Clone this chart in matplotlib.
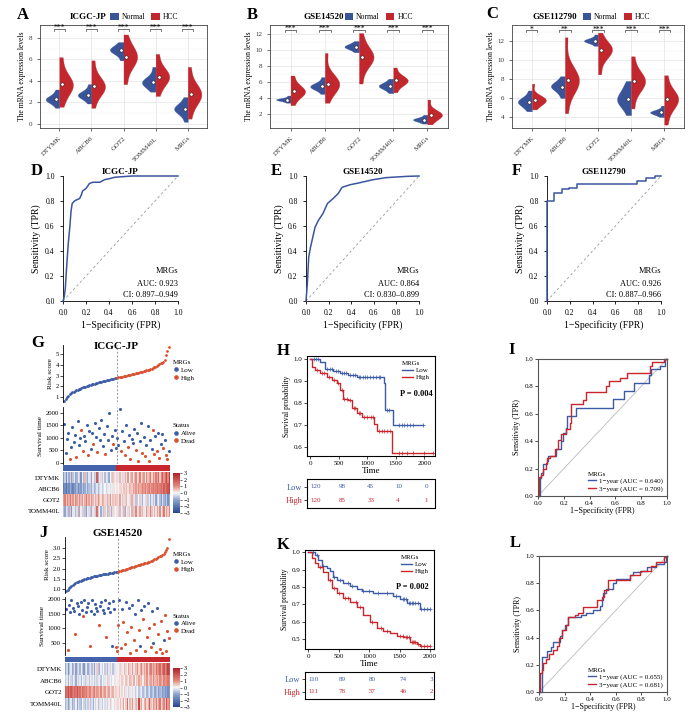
import numpy as np
import matplotlib
matplotlib.use("Agg")
import matplotlib.pyplot as plt
from matplotlib.colors import LinearSegmentedColormap, ListedColormap
from matplotlib.lines import Line2D
from matplotlib.patches import Patch
from matplotlib.ticker import MultipleLocator, FormatStrFormatter

plt.rcParams['font.family'] = ['Liberation Serif', 'DejaVu Serif']
plt.rcParams['axes.unicode_minus'] = True
plt.rcParams['axes.linewidth'] = 0.6

# ======================= DATA =======================
genes = ['DTYMK', 'ABCB6', 'GOT2', 'TOMM40L', 'MRGs']
heat_genes = ['DTYMK', 'ABCB6', 'GOT2', 'TOMM40L']

# --- A: ICGC-JP expression samples (Normal / HCC) per gene
icgc_normal = [
    [1.5, 1.9, 2.1, 2.2, 2.3, 2.4, 2.5, 2.8, 3.2],
    [1.9, 2.3, 2.5, 2.6, 2.7, 2.8, 2.9, 3.2, 3.7],
    [5.9, 6.4, 6.6, 6.8, 6.85, 6.95, 7.1, 7.3, 7.6],
    [3.0, 3.4, 3.6, 3.8, 3.9, 4.0, 4.2, 4.6, 5.3],
    [0.2, 0.8, 1.1, 1.3, 1.4, 1.5, 1.7, 2.0, 2.5]]
icgc_hcc = [
    [1.6, 2.6, 3.1, 3.4, 3.7, 3.9, 4.2, 4.9, 6.2],
    [1.5, 2.6, 3.0, 3.3, 3.5, 3.7, 4.0, 4.6, 5.9],
    [3.7, 5.0, 5.6, 5.9, 6.2, 6.5, 6.8, 7.3, 8.3],
    [2.6, 3.5, 3.9, 4.2, 4.4, 4.6, 4.9, 5.4, 6.5],
    [0.5, 1.7, 2.2, 2.5, 2.8, 3.0, 3.3, 3.9, 5.3]]
icgc_sig = ['***', '***', '***', '***', '***']

# --- B: GSE14520
g14_normal = [
    [3.4, 3.6, 3.7, 3.75, 3.8, 3.85, 3.9, 4.0, 4.3],
    [4.5, 5.0, 5.2, 5.35, 5.45, 5.55, 5.7, 6.0, 6.6],
    [9.7, 10.0, 10.2, 10.3, 10.4, 10.5, 10.6, 10.8, 11.1],
    [4.6, 5.0, 5.25, 5.4, 5.5, 5.6, 5.75, 6.0, 6.4],
    [0.8, 1.0, 1.15, 1.25, 1.3, 1.35, 1.45, 1.6, 1.9]]
g14_hcc = [
    [3.1, 4.0, 4.4, 4.6, 4.85, 5.0, 5.3, 5.8, 6.8],
    [3.4, 4.7, 5.2, 5.5, 5.8, 6.0, 6.4, 7.2, 9.6],
    [5.8, 7.6, 8.4, 8.8, 9.1, 9.4, 9.8, 10.6, 12.1],
    [4.7, 5.5, 5.8, 6.0, 6.2, 6.35, 6.5, 6.9, 7.8],
    [0.7, 1.3, 1.6, 1.8, 1.9, 2.0, 2.2, 2.6, 3.8]]
g14_sig = ['***', '***', '***', '***', '***']

# --- C: GSE112790
g11_normal = [
    [4.6, 5.0, 5.3, 5.5, 5.6, 5.7, 5.9, 6.2, 6.8],
    [6.0, 6.5, 6.9, 7.1, 7.2, 7.35, 7.5, 7.8, 8.3],
    [11.5, 11.8, 11.9, 12.0, 12.05, 12.1, 12.2, 12.35, 12.7],
    [4.2, 5.0, 5.4, 5.7, 5.9, 6.2, 6.6, 7.1, 7.8],
    [4.0, 4.25, 4.35, 4.45, 4.5, 4.55, 4.65, 4.8, 5.2]]
g11_hcc = [
    [4.8, 5.3, 5.5, 5.7, 5.8, 5.9, 6.0, 6.3, 7.5],
    [4.4, 6.6, 7.2, 7.6, 7.9, 8.1, 8.5, 9.3, 12.4],
    [8.5, 9.9, 10.5, 10.8, 11.1, 11.3, 11.5, 11.9, 12.9],
    [4.9, 6.5, 7.1, 7.5, 7.8, 8.0, 8.3, 8.9, 10.4],
    [3.2, 4.6, 5.2, 5.6, 5.9, 6.1, 6.4, 7.0, 8.4]]
g11_sig = ['*', '**', '***', '***', '***']

# --- D/E/F: diagnostic ROC curves
rocD_fpr = [0, 0.01, 0.02, 0.03, 0.045, 0.06, 0.07, 0.08, 0.1, 0.12, 0.145, 0.16, 0.17, 0.2,
            0.23, 0.26, 0.32, 0.36, 0.41, 0.45, 0.6, 1.0]
rocD_tpr = [0, 0.03, 0.1, 0.25, 0.45, 0.6, 0.72, 0.78, 0.8, 0.81, 0.82, 0.85, 0.88, 0.9,
            0.94, 0.95, 0.95, 0.97, 0.98, 0.99, 1.0, 1.0]
rocE_fpr = [0, 0.012, 0.024, 0.04, 0.06, 0.08, 0.11, 0.15, 0.19, 0.24, 0.285, 0.32, 0.39,
            0.48, 0.59, 0.71, 0.89, 1.0]
rocE_tpr = [0, 0.14, 0.35, 0.43, 0.51, 0.59, 0.645, 0.70, 0.78, 0.82, 0.86, 0.91, 0.93,
            0.947, 0.97, 0.987, 0.997, 1.0]
rocF_fpr = [0, 0, 0.065, 0.065, 0.13, 0.13, 0.19, 0.19, 0.26, 0.26, 0.79, 0.79, 0.87, 0.87,
            0.95, 0.95, 1.0]
rocF_tpr = [0, 0.8, 0.8, 0.867, 0.867, 0.9, 0.9, 0.907, 0.907, 0.933, 0.933, 0.96, 0.96,
            0.987, 0.987, 1.0, 1.0]

# --- G: ICGC-JP risk model (patients sorted by risk score)
G_risk = [0.62, 0.85, 1.0, 1.12, 1.25, 1.35, 1.45, 1.52, 1.58, 1.64,
          1.70, 1.75, 1.80, 1.85, 1.90, 1.95, 1.99, 2.03, 2.07, 2.11,
          2.15, 2.19, 2.23, 2.27, 2.31, 2.35, 2.38, 2.41, 2.44, 2.47,
          2.50, 2.53, 2.56, 2.59, 2.62, 2.65, 2.68, 2.71, 2.74, 2.77,
          2.80, 2.83, 2.86, 2.89, 2.92, 2.95, 2.98, 3.01, 3.04, 3.07,
          3.10, 3.13, 3.16, 3.19, 3.22, 3.25, 3.28, 3.31, 3.34, 3.37,
          3.40, 3.44, 3.48, 3.52, 3.56, 3.60, 3.65, 3.70, 3.76, 3.82,
          3.90, 3.98, 4.06, 4.15, 4.22, 4.30, 4.50, 4.90, 5.30, 5.70]
G_time = [1550, 380, 950, 1200, 160, 620, 1420, 820, 1100, 240,
          1650, 700, 980, 1300, 450, 1050, 870, 1500, 300, 1250,
          560, 1180, 760, 1600, 1010, 430, 1380, 890, 1700, 650,
          1150, 340, 1450, 920, 1990, 520, 1080, 730, 1320, 600,
          1000, 700, 2150, 450, 1250, 880, 300, 1500, 620, 1100,
          150, 950, 780, 1350, 520, 1200, 60, 850, 1580, 400,
          1020, 250, 690, 1450, 80, 900, 560, 1300, 350, 1050,
          480, 1200, 200, 760, 1150, 580, 920, 300, 130, 450]
G_status = [0, 0, 0, 0, 1, 0, 0, 0, 0, 1,
            0, 0, 0, 1, 1, 0, 0, 0, 1, 0,
            0, 0, 1, 0, 0, 1, 0, 0, 0, 0,
            0, 1, 0, 0, 0, 0, 0, 1, 0, 0,
            0, 0, 0, 1, 0, 0, 1, 0, 1, 0,
            1, 0, 0, 0, 1, 0, 1, 0, 0, 1,
            0, 1, 0, 0, 1, 0, 0, 1, 1, 0,
            1, 0, 1, 0, 0, 1, 0, 1, 1, 0]
G_heat = [
    [-1.2, -0.5, -1.5, -0.3, -0.9, 0.4, -1.1, -0.6, -0.2, -1.0, -0.8, 0.2, -0.4, -1.3, -0.1, -0.7, 0.6, -0.5, -0.9, -0.2,
     -0.3, -1.0, 0.1, -0.6, -0.4, 1.8, -0.8, -0.2, 0.3, -0.5, -0.1, -0.7, 0.2, -0.3, -0.9, 0.0, -0.4, 0.5, -0.2, 0.1,
     0.3, -0.2, 0.6, 0.1, 0.4, -0.3, 0.7, 0.2, 0.9, 0.0, 0.5, 0.8, -0.1, 0.6, 1.0, 0.3, 0.4, 1.2, 0.2, 0.7,
     0.9, 0.1, 1.1, 0.5, 0.8, 1.4, 0.3, 1.0, 0.6, 1.3, 0.8, 1.6, 0.4, 1.2, 1.8, 0.9, 1.5, 2.2, 1.1, 2.5],
    [-1.8, -1.5, -2.0, -1.2, -1.6, -0.9, -1.4, -1.7, -1.1, -1.3, -0.8, -1.5, -1.0, -1.2, -0.6, -1.1, -0.9, -0.4, -1.0, -0.7,
     -0.5, -0.9, -0.3, -0.8, -0.6, -0.2, -0.7, -0.4, -0.1, -0.5, -0.3, 0.0, -0.4, -0.2, 0.1, -0.3, -0.1, 0.2, -0.2, 0.0,
     0.2, 0.0, 0.3, 0.4, 0.1, 0.5, 0.3, 0.6, 0.2, 0.7, 0.5, 0.4, 0.8, 0.6, 0.9, 0.5, 1.0, 0.7, 0.8, 1.1,
     0.9, 1.2, 0.7, 1.0, 1.3, 0.8, 1.1, 1.4, 1.0, 1.2, 1.5, 1.1, 1.3, 1.6, 1.2, 1.8, 1.4, 1.7, 2.0, 2.3],
    [0.8, 1.2, 0.5, 1.0, 0.7, 1.4, 0.6, 0.9, 0.3, 1.1, 0.8, 0.4, 1.0, 0.6, 0.9, 0.2, 0.7, 1.3, 0.5, 0.8,
     0.3, 0.9, 0.6, -0.2, 0.7, 0.4, 1.0, 0.5, 0.2, 0.8, 0.6, 0.3, -0.3, 0.7, 0.4, 0.9, 0.1, 0.5, 0.3, 0.6,
     0.4, 0.2, 0.8, -0.1, 0.5, 0.3, -0.4, 0.6, 0.1, -0.2, 0.4, 0.7, -0.3, 0.2, -0.6, 0.5, 0.0, -0.4, 0.3, -0.8,
     0.1, -0.3, 0.4, -0.5, -0.1, -0.9, 0.2, -0.6, -0.2, -1.0, -0.4, 0.1, -0.7, -1.2, -0.3, -0.8, -1.1, -0.5, -1.4, -0.9],
    [-0.6, -1.0, 0.3, -0.4, -0.8, 0.5, -1.2, -0.2, 0.2, -0.7, -0.3, 0.8, -0.9, -0.1, -0.5, 0.4, -0.6, -1.1, 0.1, -0.3,
     0.6, -0.8, -0.2, 0.3, -0.5, 1.5, -0.4, 0.0, -0.9, 0.2, -0.6, 0.4, -0.1, -0.7, 0.5, -0.3, -0.8, 0.3, -0.2, 0.0,
     0.2, -0.4, 0.6, -0.1, 0.3, -0.6, 0.9, 0.1, -0.3, 0.5, 0.0, 0.7, -0.5, 0.4, 1.1, -0.2, 0.3, 0.8, -0.4, 0.6,
     0.2, -0.1, 0.9, 0.4, -0.3, 1.2, 0.5, 0.1, 0.7, -0.2, 0.8, 0.3, 1.0, -0.1, 0.6, 1.3, 0.2, 0.9, 0.4, 1.1]]

# --- J: GSE14520 risk model
J_risk = [0.90, 0.97, 1.05, 1.12, 1.18, 1.22, 1.26, 1.30, 1.33, 1.36,
          1.39, 1.42, 1.44, 1.46, 1.48, 1.50, 1.52, 1.54, 1.56, 1.58,
          1.60, 1.62, 1.63, 1.65, 1.66, 1.68, 1.69, 1.70, 1.72, 1.73,
          1.74, 1.75, 1.76, 1.77, 1.78, 1.79, 1.80, 1.81, 1.82, 1.83,
          1.85, 1.87, 1.89, 1.91, 1.93, 1.95, 1.97, 1.99, 2.01, 2.03,
          2.05, 2.07, 2.09, 2.11, 2.13, 2.15, 2.17, 2.19, 2.21, 2.23,
          2.25, 2.27, 2.29, 2.31, 2.33, 2.35, 2.38, 2.41, 2.44, 2.47,
          2.50, 2.54, 2.58, 2.62, 2.67, 2.72, 2.80, 2.90, 3.00, 3.40]
J_time = [1650, 250, 1800, 1550, 1950, 1700, 1600, 800, 1850, 1750,
          1500, 1900, 1640, 1420, 1980, 1560, 1720, 1880, 400, 1600,
          1950, 1500, 1820, 1680, 1580, 1100, 1760, 1900, 1620, 1520,
          1980, 700, 1700, 1850, 1540, 400, 1930, 1660, 350, 200,
          1100, 1950, 300, 1650, 1200, 450, 1900, 850, 1700, 150,
          1050, 1800, 600, 1500, 250, 1950, 950, 400, 1620, 1300,
          1750, 200, 700, 1850, 1000, 350, 1580, 500, 1150, 180,
          1680, 800, 280, 1250, 130, 600, 1450, 220, 900, 650]
J_status = [0, 1, 0, 0, 0, 0, 0, 1, 0, 0,
            0, 0, 0, 1, 0, 0, 0, 0, 1, 0,
            0, 0, 0, 0, 0, 1, 0, 0, 0, 0,
            0, 1, 0, 0, 0, 0, 0, 0, 1, 1,
            1, 0, 1, 0, 1, 1, 0, 1, 0, 1,
            1, 0, 1, 0, 1, 0, 1, 0, 0, 1,
            0, 1, 1, 0, 1, 1, 0, 0, 1, 1,
            0, 1, 1, 1, 1, 0, 1, 1, 1, 1]
J_heat = [
    [-0.9, -0.4, -1.3, -0.6, -0.2, -1.0, -0.7, 0.3, -1.1, -0.5, -0.3, -0.8, 0.1, -0.6, -1.2, -0.4, -0.1, -0.9, -0.5, 0.2,
     -0.7, -0.3, -1.0, -0.2, 0.4, -0.6, -0.8, -0.1, -0.4, 0.0, -0.5, 0.3, -0.7, -0.2, -0.4, 0.1, -0.6, -0.3, 0.2, -0.1,
     0.1, -0.3, 0.4, 0.2, -0.1, 0.6, 0.3, 0.0, 0.8, 0.4, 0.2, 0.9, -0.2, 0.6, 0.5, 1.0, 0.3, 0.7, 1.2, 0.4,
     0.8, 0.5, 1.1, 0.2, 0.9, 1.3, 0.6, 1.0, 0.7, 1.5, 0.9, 1.2, 1.6, 0.8, 1.4, 1.9, 1.1, 1.7, 2.3, 2.0],
    [-0.5, -0.2, -0.8, 0.1, -0.4, -0.6, -0.1, -0.3, -0.9, 0.2, -0.4, -0.2, -0.7, 0.0, -0.3, -0.5, 0.3, -0.2, -0.6, -0.1,
     -0.3, 0.1, -0.5, -0.2, -0.4, 0.2, -0.1, -0.6, 0.0, -0.3, -0.2, 0.1, -0.4, 0.3, -0.1, -0.3, 0.0, 0.2, -0.2, 0.1,
     0.1, 0.3, -0.1, 0.4, 0.2, 0.0, 0.5, 0.3, 0.1, 0.6, 0.4, 0.2, 0.7, 0.0, 0.5, 0.3, 0.8, 0.4, 0.6, 0.1,
     0.7, 0.5, 0.9, 0.3, 0.6, 0.8, 0.4, 1.0, 0.6, 0.7, 0.9, 0.5, 1.1, 0.8, 0.6, 1.2, 0.9, 1.0, 1.4, 1.1],
    [1.8, 1.5, 2.2, 1.3, 1.9, 1.6, 1.1, 1.7, 1.4, 2.0, 1.2, 1.5, 0.9, 1.6, 1.3, 1.0, 1.4, 0.8, 1.2, 1.1,
     0.7, 1.0, 1.3, 0.6, 0.9, 0.8, 0.5, 1.1, 0.4, 0.7, 0.9, 0.3, 0.6, 0.8, 0.2, 0.5, 0.7, 0.1, 0.4, 0.3,
     0.2, 0.5, -0.1, 0.3, 0.0, 0.4, -0.2, 0.1, -0.4, 0.2, -0.1, -0.3, 0.1, -0.5, -0.2, 0.0, -0.6, -0.3, -0.1, -0.7,
     -0.4, -0.2, -0.8, -0.5, -0.3, -0.9, -0.6, -0.4, -1.0, -0.7, -0.5, -1.1, -0.8, -0.6, -1.2, -0.9, -1.3, -1.0, -1.5, -1.2],
    [-0.8, -0.4, -1.1, -0.6, -0.2, -0.9, -0.5, -0.7, 0.1, -1.0, -0.3, -0.6, -0.8, 0.0, -0.4, -0.7, -0.2, -0.5, 0.2, -0.6,
     -0.3, -0.8, 0.1, -0.4, -0.1, -0.6, 0.3, -0.2, -0.5, 0.0, -0.3, 0.2, -0.4, -0.1, 0.4, -0.2, 0.0, 0.3, -0.1, 0.2,
     0.3, -0.1, 0.5, 0.2, 0.8, 0.0, 0.4, 1.5, 0.1, 0.6, 0.3, 0.9, -0.2, 0.5, 0.7, 0.2, 2.2, 0.4, 0.8, 0.1,
     0.6, 1.0, 0.3, 0.7, 1.8, 0.5, 0.2, 0.9, 0.6, 1.2, 0.4, 0.8, 1.4, 0.3, 0.7, 1.1, 0.5, 1.9, 0.9, 1.3]]

# --- H: ICGC-JP Kaplan-Meier
H_low_t = [0, 175, 262, 408, 525, 670, 816, 1294, 1312, 1458]
H_low_s = [1.0, 0.989, 0.954, 0.948, 0.939, 0.927, 0.92, 0.89, 0.768, 0.70]
H_low_end = 1980
H_low_cens = [60, 100, 130, 300, 350, 380, 450, 480, 560, 600, 620, 700, 750, 780, 850, 880, 920,
              960, 1000, 1050, 1100, 1150, 1200, 1230, 1350, 1380, 1550, 1600, 1650, 1700, 1750, 1800, 1980]
H_high_t = [0, 29, 87, 175, 292, 379, 466, 525, 583, 670, 729, 816, 904, 1120, 1166, 1440]
H_high_s = [1.0, 0.966, 0.95, 0.936, 0.92, 0.905, 0.89, 0.86, 0.82, 0.814, 0.776, 0.753, 0.734,
            0.704, 0.672, 0.572]
H_high_end = 2150
H_high_cens = [120, 200, 250, 330, 420, 480, 560, 600, 640, 700, 760, 790, 850, 880, 950, 1000, 1060,
               1100, 1200, 1250, 1300, 1350, 1400, 1550, 1600, 1700, 1800, 2000, 2150]
H_risk_low = [120, 98, 45, 10, 0]
H_risk_high = [120, 85, 33, 4, 1]
H_p = 'P = 0.004'

# --- K: GSE14520 Kaplan-Meier
K_low_t = [0, 110, 164, 219, 301, 356, 411, 466, 575, 685, 795, 877, 1068, 1233, 1397, 1507, 1616,
           1781, 1836]
K_low_s = [1.0, 0.985, 0.956, 0.923, 0.912, 0.895, 0.856, 0.84, 0.826, 0.807, 0.79, 0.78, 0.768,
           0.764, 0.749, 0.73, 0.71, 0.707, 0.672]
K_low_end = 2000
K_low_cens = [80, 150, 250, 420, 520, 650, 720, 900, 1000, 1150, 1300, 1450, 1550, 1580, 1600, 1650,
              1680, 1700, 1720, 1750, 1800, 1850, 1900, 1950, 2000]
K_high_t = [0, 55, 110, 164, 247, 329, 384, 466, 575, 685, 795, 904, 1014, 1123, 1233, 1342, 1452,
            1562, 1671, 1781, 1836]
K_high_s = [1.0, 0.966, 0.937, 0.918, 0.889, 0.84, 0.793, 0.764, 0.736, 0.716, 0.688, 0.64, 0.60,
            0.563, 0.55, 0.534, 0.519, 0.511, 0.487, 0.473, 0.462]
K_high_end = 2000
K_high_cens = [200, 350, 420, 500, 600, 650, 780, 850, 1050, 1200, 1300, 1500, 1550, 1600, 1620, 1650,
               1700, 1720, 1740, 1760, 1800, 1850, 1900, 1950, 2000]
K_risk_low = [110, 89, 80, 74, 3]
K_risk_high = [111, 78, 57, 46, 2]
K_p = 'P = 0.002'
risk_times = [0, 500, 1000, 1500, 2000]

# --- I / L: time-dependent ROC
I1_fpr = [0, 0.013, 0.026, 0.039, 0.07, 0.078, 0.143, 0.182, 0.195, 0.22, 0.226, 0.294, 0.579, 0.668,
          0.745, 0.857, 0.875, 0.948, 0.987, 1.0]
I1_tpr = [0, 0.13, 0.166, 0.23, 0.257, 0.29, 0.344, 0.4, 0.46, 0.5, 0.587, 0.644, 0.705, 0.765,
          0.827, 0.884, 0.926, 0.946, 1.0, 1.0]
I3_fpr = [0, 0.005, 0.026, 0.04, 0.06, 0.07, 0.09, 0.13, 0.156, 0.18, 0.22, 0.247, 0.255, 0.35, 0.37,
          0.53, 0.553, 0.636, 0.688, 0.865, 0.883, 0.98, 1.0]
I3_tpr = [0, 0.14, 0.153, 0.2, 0.24, 0.277, 0.29, 0.34, 0.41, 0.455, 0.49, 0.53, 0.67, 0.7, 0.76,
          0.8, 0.84, 0.86, 0.896, 0.946, 0.975, 1.0, 1.0]
I_auc = ['1\u2212year (AUC = 0.640)', '3\u2212year (AUC = 0.709)']
L1_fpr = [0, 0.02, 0.065, 0.09, 0.107, 0.164, 0.177, 0.2, 0.23, 0.33, 0.37, 0.42, 0.475, 0.493, 0.5,
          0.527, 0.58, 0.605, 0.714, 0.735, 0.8, 0.84, 0.917, 0.974, 0.995, 1.0]
L1_tpr = [0, 0.26, 0.3, 0.334, 0.37, 0.41, 0.456, 0.49, 0.55, 0.565, 0.58, 0.6, 0.63, 0.68, 0.73,
          0.76, 0.8, 0.83, 0.86, 0.88, 0.89, 0.92, 0.94, 0.956, 0.99, 1.0]
L3_fpr = [0, 0.008, 0.02, 0.034, 0.055, 0.08, 0.11, 0.137, 0.158, 0.177, 0.21, 0.23, 0.28, 0.306,
          0.345, 0.45, 0.49, 0.51, 0.54, 0.71, 0.787, 0.878, 0.917, 0.974, 1.0]
L3_tpr = [0, 0.14, 0.16, 0.21, 0.24, 0.28, 0.31, 0.34, 0.395, 0.456, 0.49, 0.55, 0.566, 0.578,
          0.627, 0.68, 0.7, 0.75, 0.82, 0.86, 0.89, 0.93, 0.956, 0.993, 1.0]
L_auc = ['1\u2212year (AUC = 0.655)', '3\u2212year (AUC = 0.681)']

# ======================= STYLE =======================
NORM = '#3A5499'
HCC = '#C1272D'
ROC_BLUE = '#3A55A0'
LOW_C = '#3B5BA5'
HIGH_C = '#C8252C'
DOT_BLUE = '#3E5DA8'
DOT_RED = '#D9512F'
TXT = '#333333'

W, H = 692, 719
fig = plt.figure(figsize=(W / 100, H / 100), dpi=100)


def add_ax(x0, y0, x1, y1):
    return fig.add_axes([x0 / W, 1 - y1 / H, (x1 - x0) / W, (y1 - y0) / H])


def letter(x, y, s):
    fig.text(x / W, 1 - y / H, s, fontsize=12, fontweight='bold', ha='center', va='center')


# ---------------- violin panels ----------------
def violin_panel(box, normal, hcc, ylim, yticks, sigs, sig_y, title, title_x, leg_x):
    ax = add_ax(*box)
    pos = np.arange(len(genes))
    ax.set_axisbelow(True)
    ax.set_xlim(-0.6, 4.6)
    ax.set_ylim(*ylim)
    ax.set_yticks(yticks)
    ax.yaxis.set_minor_locator(MultipleLocator(1))
    ax.grid(True, which='major', color='#E3E3E3', lw=0.5)
    ax.grid(True, which='minor', axis='y', color='#F0F0F0', lw=0.35)
    for data, side, col in ((normal, -1, NORM), (hcc, 1, HCC)):
        parts = ax.violinplot(data, positions=pos, widths=0.85, showextrema=False, bw_method=0.55)
        for c, body in zip(pos, parts['bodies']):
            v = body.get_paths()[0].vertices.copy()
            if side < 0:
                v[:, 0] = np.minimum(v[:, 0], c)
            else:
                v[:, 0] = np.maximum(v[:, 0], c)
            body.set_verts([v])
            body.set_facecolor(col)
            body.set_edgecolor(col)
            body.set_alpha(1)
            body.set_linewidth(0.2)
            body.set_zorder(2)
        ax.scatter(pos + side * 0.09, [np.median(d) for d in data], s=6, facecolor='white',
                   edgecolor='#222222', linewidths=0.4, zorder=5)
    d = (ylim[1] - ylim[0]) * 0.02
    for p, s in zip(pos, sigs):
        ax.plot([p - 0.17, p - 0.17, p + 0.17, p + 0.17], [sig_y - d, sig_y, sig_y, sig_y - d],
                color='#222222', lw=0.45, zorder=6)
        ax.text(p, sig_y - d * 1.6, s, ha='center', va='bottom', fontsize=5.5, zorder=7)
    ax.set_xticks(pos)
    ax.set_xticklabels(genes, rotation=45, ha='right', rotation_mode='anchor', fontsize=5, color=TXT)
    ax.tick_params(axis='y', labelsize=5, colors=TXT, length=2, width=0.5)
    ax.tick_params(axis='x', length=2, width=0.5, colors=TXT)
    ax.tick_params(which='minor', length=0)
    for sp in ax.spines.values():
        sp.set_color('#444444')
        sp.set_linewidth(0.6)
    ax.set_ylabel('The mRNA expression levels', fontsize=5.5, labelpad=2)
    ax.text(title_x, 1.075, title, transform=ax.transAxes, fontsize=6.5, fontweight='bold',
            ha='center', va='center')
    handles = [Patch(facecolor=NORM, edgecolor='none'), Patch(facecolor=HCC, edgecolor='none')]
    ax.legend(handles, ['Normal', 'HCC'], ncol=2, loc='center left', bbox_to_anchor=(leg_x, 1.075),
              frameon=False, fontsize=5.5, handlelength=1.1, handleheight=1.1, columnspacing=0.8,
              handletextpad=0.4, borderaxespad=0, borderpad=0)
    return ax


violin_panel((40, 25, 207, 128), icgc_normal, icgc_hcc, (-0.37, 9.18), [0, 2, 4, 6, 8],
             icgc_sig, 8.85, 'ICGC-JP', 0.29, 0.42)
violin_panel((270, 25, 448, 128), g14_normal, g14_hcc, (0.25, 13.1), [2, 4, 6, 8, 10, 12],
             g14_sig, 12.5, 'GSE14520', 0.30, 0.42)
violin_panel((512, 25, 684, 128), g11_normal, g11_hcc, (2.84, 13.7), [4, 6, 8, 10, 12],
             g11_sig, 13.15, 'GSE112790', 0.25, 0.41)
letter(23, 15, 'A')
letter(252, 15, 'B')
letter(492, 14, 'C')


# ---------------- diagnostic ROC ----------------
def roc_panel(box, fpr, tpr, title, lines):
    ax = add_ax(*box)
    ax.plot([0, 1], [0, 1], ls=(0, (3, 3)), color='#999999', lw=0.6)
    ax.plot(fpr, tpr, color=ROC_BLUE, lw=1.1, clip_on=False, zorder=4)
    ax.set_xlim(0, 1)
    ax.set_ylim(0, 1)
    for sp in ('top', 'right'):
        ax.spines[sp].set_visible(False)
    ax.set_xticks(np.arange(0, 1.01, 0.2))
    ax.set_yticks(np.arange(0, 1.01, 0.2))
    ax.xaxis.set_major_formatter(FormatStrFormatter('%.1f'))
    ax.yaxis.set_major_formatter(FormatStrFormatter('%.1f'))
    ax.tick_params(labelsize=5.5, length=2.5, width=0.6)
    ax.set_xlabel('1\u2212Specificity (FPR)', fontsize=7, labelpad=2)
    ax.set_ylabel('Sensitivity (TPR)', fontsize=7, labelpad=3)
    ax.set_title(title, fontsize=6.5, fontweight='bold', pad=1)
    for y, s in zip((0.24, 0.14, 0.045), lines):
        ax.text(1.0, y, s, ha='right', va='center', fontsize=6)


roc_panel((63, 176, 178, 301), rocD_fpr, rocD_tpr, 'ICGC-JP', ['MRGs', 'AUC: 0.923', 'CI: 0.897\u20130.949'])
roc_panel((306, 176, 419, 301), rocE_fpr, rocE_tpr, 'GSE14520', ['MRGs', 'AUC: 0.864', 'CI: 0.830\u20130.899'])
roc_panel((547, 176, 661, 301), rocF_fpr, rocF_tpr, 'GSE112790', ['MRGs', 'AUC: 0.926', 'CI: 0.887\u20130.966'])
letter(37, 171, 'D')
letter(276, 171, 'E')
letter(517, 171, 'F')

# ---------------- risk plots ----------------
heat_cmap = LinearSegmentedColormap.from_list(
    'bwr2', [(0.0, '#24468F'), (0.33, '#8EA3CF'), (0.5, '#F8F8F8'), (0.67, '#E58A7F'), (1.0, '#B21E26')])


def risk_panel(x0, x1, yr, ys, yb, yh, cb, risk, time, status, heat, title, rlim, rticks, rfmt,
               slim, sticks, title_y):
    n = len(risk)
    idx = np.arange(1, n + 1)
    half = n // 2
    grp = np.array([0] * half + [1] * (n - half))
    risk = np.array(risk)
    time = np.array(time)
    status = np.array(status)
    split = half + 0.5

    axr = add_ax(x0, yr[0], x1, yr[1])
    axr.scatter(idx[grp == 0], risk[grp == 0], s=4, color=DOT_BLUE, lw=0)
    axr.scatter(idx[grp == 1], risk[grp == 1], s=4, color=DOT_RED, lw=0)
    axr.axvline(split, ls=(0, (2.5, 2)), color='#888888', lw=0.6)
    axr.set_xlim(0, n + 1)
    axr.set_ylim(*rlim)
    axr.set_yticks(rticks)
    axr.yaxis.set_major_formatter(FormatStrFormatter(rfmt))
    for sp in ('top', 'right', 'bottom'):
        axr.spines[sp].set_visible(False)
    axr.set_xticks([])
    axr.tick_params(axis='y', labelsize=4.8, length=2, width=0.5, pad=1)
    axr.set_ylabel('Risk score', fontsize=5.2, labelpad=2)
    axr.text(0.5, title_y, title, transform=axr.transAxes, ha='center', va='center',
             fontsize=8, fontweight='bold')
    h1 = [Line2D([], [], marker='o', ls='', color=DOT_BLUE, ms=2.3),
          Line2D([], [], marker='o', ls='', color=DOT_RED, ms=2.3)]
    lg = axr.legend(h1, ['Low', 'High'], title='MRGs', loc='upper left', bbox_to_anchor=(1.0, 0.78),
                    frameon=False, fontsize=5, title_fontsize=5, handlelength=0.8, handletextpad=0.4,
                    borderaxespad=0, labelspacing=0.25)
    lg._legend_box.align = 'left'

    axs = add_ax(x0, ys[0], x1, ys[1])
    alive = status == 0
    axs.scatter(idx[alive], time[alive], s=5, color=DOT_BLUE, lw=0)
    axs.scatter(idx[~alive], time[~alive], s=5, color=DOT_RED, lw=0)
    axs.axvline(split, ls=(0, (2.5, 2)), color='#888888', lw=0.6)
    axs.set_xlim(0, n + 1)
    axs.set_ylim(*slim)
    axs.set_yticks(sticks)
    for sp in ('top', 'right', 'bottom'):
        axs.spines[sp].set_visible(False)
    axs.set_xticks([])
    axs.tick_params(axis='y', labelsize=4.8, length=2, width=0.5, pad=1)
    axs.set_ylabel('Survival time', fontsize=5.2, labelpad=2)
    h2 = [Line2D([], [], marker='o', ls='', color=DOT_BLUE, ms=2.3),
          Line2D([], [], marker='o', ls='', color=DOT_RED, ms=2.3)]
    lg2 = axs.legend(h2, ['Alive', 'Dead'], title='Status', loc='upper left', bbox_to_anchor=(1.0, 0.76),
                     frameon=False, fontsize=5, title_fontsize=5, handlelength=0.8, handletextpad=0.4,
                     borderaxespad=0, labelspacing=0.25)
    lg2._legend_box.align = 'left'

    axb = add_ax(x0, yb[0], x1, yb[1])
    axb.imshow(grp[None, :], aspect='auto', cmap=ListedColormap(['#4463AA', '#C8262E']),
               interpolation='nearest')
    axb.axis('off')

    axh = add_ax(x0, yh[0], x1, yh[1])
    im = axh.imshow(np.array(heat), aspect='auto', cmap=heat_cmap, vmin=-3, vmax=3,
                    interpolation='nearest')
    axh.set_xticks([])
    axh.set_yticks(range(len(heat_genes)))
    axh.set_yticklabels(heat_genes, fontsize=5)
    axh.tick_params(length=0, pad=2)
    for sp in axh.spines.values():
        sp.set_visible(False)

    cax = add_ax(*cb)
    cbar = fig.colorbar(im, cax=cax, ticks=[-3, -2, -1, 0, 1, 2, 3])
    cbar.outline.set_visible(False)
    cbar.ax.tick_params(labelsize=4.5, length=1.5, width=0.4, pad=1)


risk_panel(63, 170, (345, 402), (407, 464), (465, 471), (472, 517), (173, 473, 180, 513),
           G_risk, G_time, G_status, G_heat, 'ICGC-JP', (0.55, 5.85), [1, 2, 3, 4, 5], '%d',
           (-60, 2230), [0, 500, 1000, 1500, 2000], 0.98)
risk_panel(65, 170, (537, 593), (597, 655), (657, 662), (663, 710), (173, 668, 180, 707),
           J_risk, J_time, J_status, J_heat, 'GSE14520', (0.82, 3.52), [1.0, 1.5, 2.0, 2.5, 3.0], '%.1f',
           (75, 2070), [500, 1000, 1500, 2000], 1.07)
letter(38, 343, 'G')
letter(43, 533, 'J')


# ---------------- Kaplan-Meier ----------------
def km_panel(box, tbox, xlim, ylim, yticks, curves, pval, p_xy, tab_low, tab_high):
    ax = add_ax(*box)
    for t, s, end, cens, col, lab in curves:
        t = np.array(t, float)
        s = np.array(s, float)
        ax.step(np.append(t, end), np.append(s, s[-1]), where='post', color=col, lw=1.0, label=lab)
        ci = np.searchsorted(t, cens, side='right') - 1
        ax.plot(cens, s[ci], ls='', marker='+', color=col, ms=3.2, mew=0.5)
    ax.set_xlim(*xlim)
    ax.set_ylim(*ylim)
    ax.set_xticks(risk_times)
    ax.set_yticks(yticks)
    ax.yaxis.set_major_formatter(FormatStrFormatter('%.1f'))
    ax.tick_params(labelsize=5, length=2, width=0.5, pad=1.5)
    ax.set_xlabel('Time', fontsize=6.5, labelpad=0.5)
    ax.set_ylabel('Survival probability', fontsize=5.5, labelpad=2)
    for sp in ax.spines.values():
        sp.set_linewidth(0.8)
    lg = ax.legend(title='MRGs', loc='upper right', bbox_to_anchor=(1.0, 1.0), frameon=False,
                   fontsize=5, title_fontsize=5, handlelength=1.6, handletextpad=0.4,
                   borderaxespad=0.3, labelspacing=0.2)
    lg._legend_box.align = 'left'
    ax.text(p_xy[0], p_xy[1], pval, transform=ax.transAxes, ha='right', va='center',
            fontsize=6, fontweight='bold')

    tx = add_ax(*tbox)
    tx.set_xlim(*xlim)
    tx.set_ylim(0.4, 2.6)
    tx.set_xticks([])
    tx.set_yticks([1, 2])
    tx.set_yticklabels(['High', 'Low'], fontsize=6)
    tx.get_yticklabels()[0].set_color(HIGH_C)
    tx.get_yticklabels()[1].set_color(LOW_C)
    tx.tick_params(axis='y', length=2, width=0.5, pad=1.5)
    for sp in tx.spines.values():
        sp.set_linewidth(0.8)
    for x, a, b in zip(risk_times, tab_low, tab_high):
        tx.text(x, 2, str(a), ha='left', va='center', fontsize=5, color=LOW_C)
        tx.text(x, 1, str(b), ha='left', va='center', fontsize=5, color=HIGH_C)


km_panel((307, 356, 435, 456), (307, 479, 435, 508), (-55, 2185), (0.557, 1.015),
         [0.6, 0.7, 0.8, 0.9, 1.0],
         [(H_low_t, H_low_s, H_low_end, H_low_cens, LOW_C, 'Low'),
          (H_high_t, H_high_s, H_high_end, H_high_cens, HIGH_C, 'High')],
         H_p, (0.98, 0.62), H_risk_low, H_risk_high)
km_panel((305, 550, 434, 649), (305, 672, 434, 699), (-54, 2067), (0.444, 1.013),
         [0.5, 0.6, 0.7, 0.8, 0.9, 1.0],
         [(K_low_t, K_low_s, K_low_end, K_low_cens, LOW_C, 'Low'),
          (K_high_t, K_high_s, K_high_end, K_high_cens, HIGH_C, 'High')],
         K_p, (0.96, 0.63), K_risk_low, K_risk_high)
letter(283, 351, 'H')
letter(283, 545, 'K')


# ---------------- time-dependent ROC ----------------
def troc_panel(box, f1, t1, f3, t3, labels):
    ax = add_ax(*box)
    ax.plot([0, 1], [0, 1], color='#BBBBBB', lw=0.6)
    ax.step(f1, t1, where='post', color=LOW_C, lw=1.0, label=labels[0], clip_on=False)
    ax.step(f3, t3, where='post', color=HIGH_C, lw=1.0, label=labels[1], clip_on=False)
    ax.set_xlim(0, 1)
    ax.set_ylim(0, 1)
    ax.set_xticks(np.arange(0, 1.01, 0.2))
    ax.set_yticks(np.arange(0, 1.01, 0.2))
    ax.xaxis.set_major_formatter(FormatStrFormatter('%.1f'))
    ax.yaxis.set_major_formatter(FormatStrFormatter('%.1f'))
    ax.tick_params(labelsize=5, length=2, width=0.5, pad=1.5)
    ax.set_xlabel('1\u2212Specificity (FPR)', fontsize=5.8, labelpad=1)
    ax.set_ylabel('Sensitivity (TPR)', fontsize=5.8, labelpad=2)
    for sp in ax.spines.values():
        sp.set_linewidth(0.8)
        sp.set_color('#555555')
    lg = ax.legend(title='MRGs', loc='lower right', frameon=False, fontsize=5, title_fontsize=5,
                   handlelength=1.2, handletextpad=0.4, borderaxespad=0.2, labelspacing=0.2)
    lg._legend_box.align = 'left'


troc_panel((538, 359, 667, 496), I1_fpr, I1_tpr, I3_fpr, I3_tpr, I_auc)
troc_panel((539, 556, 667, 692), L1_fpr, L1_tpr, L3_fpr, L3_tpr, L_auc)
letter(512, 350, 'I')
letter(515, 543, 'L')

fig.savefig('out.png', dpi=100, facecolor='white')
